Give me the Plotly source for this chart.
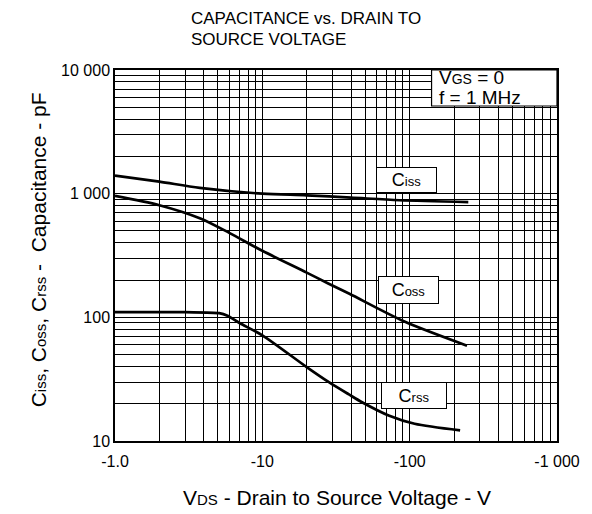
import plotly.graph_objects as go

# Data (V_DS magnitude in volts, capacitance in pF)
vds_ciss = [1, 2, 3.76, 10, 20, 40, 85, 250]
ciss = [1400, 1250, 1115, 1000, 970, 930, 885, 855]

vds_coss = [1, 2, 3.8, 6, 10, 20, 28, 39, 93, 245]
coss = [960, 807, 630, 480, 345, 230, 188, 155, 92, 59]

vds_crss = [1, 3, 5.1, 5.8, 7, 10, 20, 28.3, 38.7, 47.5, 72, 108, 220]
crss = [110, 110, 108, 103, 90, 71.5, 39.6, 29.9, 23.8, 20.6, 16.1, 13.8, 12.2]

x_major = [1, 10, 100, 1000]
x_major_text = ["-1.0", "-10", "-100", "-1 000"]
y_major = [10, 100, 1000, 10000]
y_major_text = ["10", "100", "1 000", "10 000"]

FONT = "Liberation Sans, Arial, sans-serif"


def log_ticks(majors, texts):
    vals, txt = [], []
    for i, m in enumerate(majors):
        vals.append(m)
        txt.append(texts[i])
        if i < len(majors) - 1:
            for k in range(2, 10):
                vals.append(m * k)
                txt.append("")
    return vals, txt


xv, xt = log_ticks(x_major, x_major_text)
yv, yt = log_ticks(y_major, y_major_text)

fig = go.Figure()
for xs, ys in [(vds_ciss, ciss), (vds_coss, coss), (vds_crss, crss)]:
    fig.add_trace(go.Scatter(x=xs, y=ys, mode="lines",
                             line=dict(color="black", width=2.7, shape="spline", smoothing=0.8),
                             showlegend=False, hoverinfo="skip"))

W, H = 592, 514
L, R, T, B = 115, 33, 70, 73
pw, ph = W - L - R, H - T - B


def px(xpix):
    return (xpix - L) / pw


def py(ypix):
    return (H - B - ypix) / ph


def sm(s, size=13):
    return f'<span style="font-size:{size}px">{s}</span>'


fig.update_layout(
    width=W, height=H,
    margin=dict(l=L, r=R, t=T, b=B),
    paper_bgcolor="white", plot_bgcolor="white",
    font=dict(family=FONT, color="black", size=16),
)

fig.update_xaxes(type="log", range=[0, 3], tickvals=xv, ticktext=xt, ticks="",
                 showgrid=True, gridcolor="black", gridwidth=1,
                 showline=True, linecolor="black", linewidth=1.5, mirror=True,
                 zeroline=False, tickfont=dict(size=16), ticklabelstandoff=5)
fig.update_yaxes(type="log", range=[1, 4], tickvals=yv, ticktext=yt, ticks="",
                 showgrid=True, gridcolor="black", gridwidth=1,
                 showline=True, linecolor="black", linewidth=1.5, mirror=True,
                 zeroline=False, tickfont=dict(size=16))

plain = dict(showarrow=False, xref="paper", yref="paper")


def ft(size):
    return dict(family=FONT, color="black", size=size)


# Title
fig.add_annotation(text="CAPACITANCE vs. DRAIN TO", x=px(189), y=py(18), xanchor="left", yanchor="middle",
                   font=ft(17), **plain)
fig.add_annotation(text="SOURCE VOLTAGE", x=px(189), y=py(40), xanchor="left", yanchor="middle",
                   font=ft(17), **plain)

# Axis titles
fig.add_annotation(text="V" + sm("DS", 15) + " - Drain to Source Voltage - V", x=px(338), y=py(497),
                   xanchor="center", yanchor="middle", font=ft(21), **plain)
fig.add_annotation(text="C" + sm("iss", 15) + ", C" + sm("oss", 15) + ", C" + sm("rss", 15) + " -  Capacitance - pF",
                   x=px(38), y=py(250), xanchor="center", yanchor="middle", textangle=-90,
                   font=ft(21), **plain)

# VGS / f box
fig.add_shape(type="rect", xref="paper", yref="paper", x0=px(433), x1=1, y0=py(106), y1=1,
              fillcolor="white", line=dict(color="black", width=1.2), layer="above")
fig.add_annotation(text="V" + sm("GS", 14) + " = 0", x=px(438), y=py(77.5), xanchor="left", yanchor="middle",
                   font=ft(19), **plain)
fig.add_annotation(text="f = 1 MHz", x=px(438), y=py(97), xanchor="left", yanchor="middle",
                   font=ft(19), **plain)

box = dict(showarrow=False, xref="paper", yref="paper", bgcolor="white", xanchor="center", yanchor="middle",
           bordercolor="black", borderwidth=1, font=ft(18))
fig.add_annotation(text="C" + sm("iss"), x=px(407.5), y=py(180), width=57, height=22, **box)
fig.add_annotation(text="C" + sm("oss"), x=px(409.5), y=py(290), width=57, height=24, **box)
fig.add_annotation(text="C" + sm("rss"), x=px(415), y=py(395.5), width=62, height=23, **box)

fig.write_html("out.html", config={"displayModeBar": False},
               post_script="document.body.style.margin='0';document.body.style.overflow='hidden';")
